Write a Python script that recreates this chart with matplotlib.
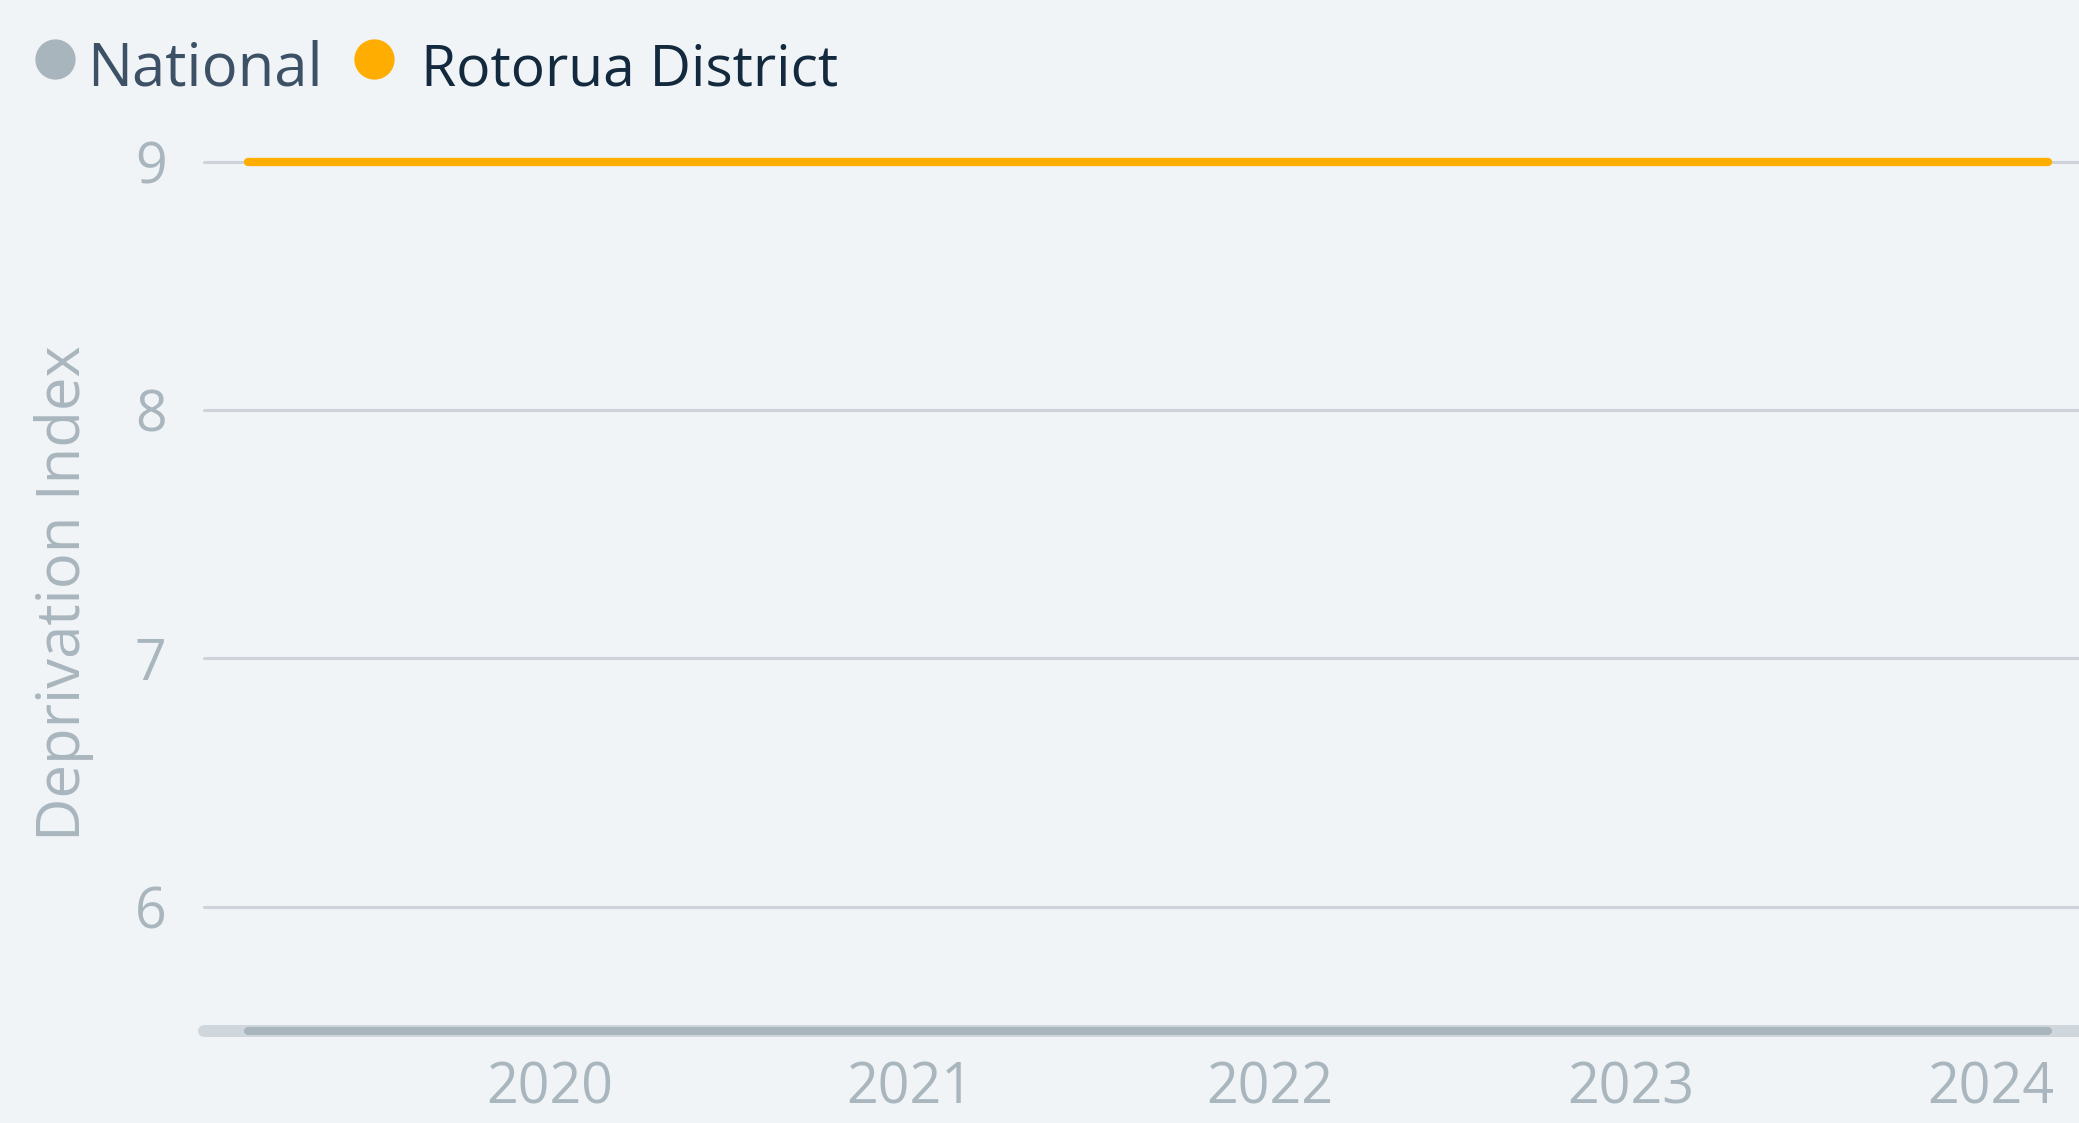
import matplotlib
matplotlib.use("Agg")
import matplotlib.pyplot as plt
from matplotlib.lines import Line2D

# ---- data ----
years_rotorua = [2019.16, 2020.16, 2021.16, 2022.16, 2023.16, 2024.16]
rotorua_values = [9, 9, 9, 9, 9, 9]
years_national = [2019.16, 2020.16, 2021.16, 2022.16, 2023.16, 2024.16]
national_values = [5.5, 5.5, 5.5, 5.5, 5.5, 5.5]
x_ticks = [2020, 2021, 2022, 2023, 2024]
x_tick_labels = ["2020", "2021", "2022", "2023", "2024"]
y_ticks = [6, 7, 8, 9]
y_tick_labels = ["6", "7", "8", "9"]
series_names = ["National", "Rotorua District"]
y_label = "Deprivation Index"

# ---- style ----
BG = "#f0f4f7"
ORANGE = "#ffad00"
NAT = "#a9b5bc"
GRID = "#cdd3d8"
BASE = "#cfd6dc"
TICK = "#a9b6be"
FONT = "Open Sans"

plt.rcParams["font.family"] = [FONT, "DejaVu Sans"]

W, H = 2079, 1123
fig = plt.figure(figsize=(W / 100, H / 100), dpi=100, facecolor=BG)
left_px, right_px, top_px, bottom_px = 204, 2079, 161.7, 1031
ax = fig.add_axes([left_px / W, (H - bottom_px) / H,
                   (right_px - left_px) / W, (bottom_px - top_px) / H])
ax.set_facecolor(BG)

ax.set_xlim(2019.039, 2024.246)
ax.set_ylim(5.5, 9.0)

ax.set_yticks(y_ticks)
ax.set_yticklabels(y_tick_labels)
ax.set_xticks(x_ticks)
ax.set_xticklabels(x_tick_labels)

ax.yaxis.grid(True, color=GRID, linewidth=2.2, solid_capstyle="round")
ax.xaxis.grid(False)
ax.set_axisbelow(True)
for g in ax.get_ygridlines():
    g.set_clip_on(False)

for s in ["top", "right", "left"]:
    ax.spines[s].set_visible(False)
ax.spines["bottom"].set_color(BASE)
ax.spines["bottom"].set_linewidth(8.6)
ax.spines["bottom"].set_capstyle("round")

ax.tick_params(axis="both", length=0, labelsize=40, labelcolor=TICK)
ax.tick_params(axis="x", pad=21)
ax.tick_params(axis="y", pad=27)

ax.plot(years_national, national_values, color=NAT, linewidth=5.8,
        solid_capstyle="round", clip_on=False, zorder=3)
ax.plot(years_rotorua, rotorua_values, color=ORANGE, linewidth=6,
        solid_capstyle="round", clip_on=False, zorder=4)

fig.text(64 / W, 1 - 593 / H, y_label, rotation=90, ha="center", va="center",
         fontsize=43, color=TICK)

# ---- legend ----
leg_y = 1 - 59 / H
fig.add_artist(Line2D([54.5 / W], [leg_y], marker="o", markersize=29,
                      markerfacecolor=NAT, markeredgewidth=0,
                      linestyle="none", transform=fig.transFigure))
fig.add_artist(Line2D([374 / W], [leg_y], marker="o", markersize=29,
                      markerfacecolor=ORANGE, markeredgewidth=0,
                      linestyle="none", transform=fig.transFigure))
fig.text(87 / W, 1 - 85 / H, series_names[0], fontsize=43, color="#3d5166",
         ha="left", va="baseline")
fig.text(421 / W, 1 - 85 / H, series_names[1], fontsize=41, color="#13293d",
         ha="left", va="baseline")

fig.savefig("out.png", dpi=100, facecolor=BG)
